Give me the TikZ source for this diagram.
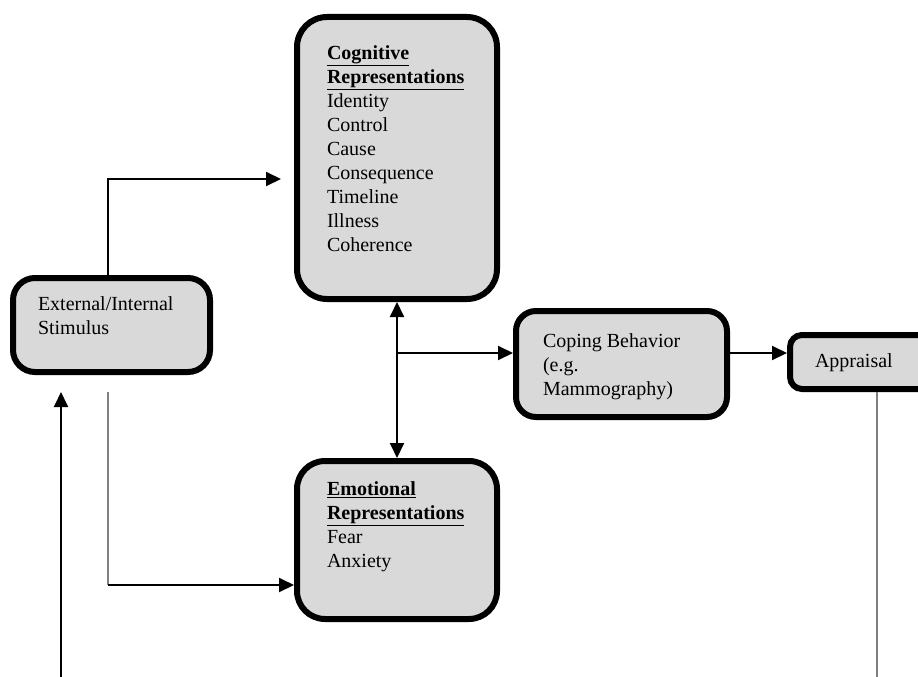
\documentclass[tikz,border=0pt]{standalone}
\usepackage{fontspec}
\setmainfont{Liberation Serif}
\usetikzlibrary{arrows.meta}
\definecolor{boxgray}{gray}{0.85}
\newcommand{\boxtext}[3]{\parbox[c][#1][t]{#2}{\raggedright #3}}

\begin{document}
\begin{tikzpicture}[x=1pt,y=-1pt,
    box/.style={draw,line width=6pt,fill=boxgray,
      font=\fontsize{20}{24}\selectfont},
    arr/.style={line width=2pt,-{Triangle[length=15pt,width=14pt]}},
    dbl/.style={line width=2pt,{Triangle[length=15pt,width=14pt]}-{Triangle[length=15pt,width=14pt]}},
    fio/.style={line width=1.6pt,gray}]
  \useasboundingbox (0,0) rectangle (918,677);

  \node[box,rounded corners=30pt,inner xsep=30pt,inner ysep=29pt] (cog) at (397,158)
    {\boxtext{224pt}{140pt}{\textbf{\underline{Cognitive}}\\
      \textbf{\underline{Representations}}\\Identity\\Control\\Cause\\
      Consequence\\Timeline\\Illness\\Coherence}};
  \node[box,rounded corners=28pt,inner xsep=30pt,inner ysep=21pt] (emo) at (397,540)
    {\boxtext{116pt}{140pt}{\textbf{\underline{Emotional}}\\
      \textbf{\underline{Representations}}\\Fear\\Anxiety}};
  \node[box,rounded corners=22pt,inner xsep=25pt,inner ysep=19pt] (stim) at (111.5,325)
    {\boxtext{56pt}{147pt}{External/Internal\\Stimulus}};
  \node[box,rounded corners=20pt,inner xsep=27pt,inner ysep=23pt] (cop) at (621.5,364)
    {\boxtext{60pt}{157pt}{Coping Behavior\\(e.g.\\Mammography)}};
  \node[box,rounded corners=12pt,inner xsep=25pt,inner ysep=19pt] (appr) at (877,362)
    {\boxtext{16pt}{124pt}{Appraisal}};

  \coordinate (cb) at ([yshift=11pt]cop.west);
  \coordinate (sb) at ([xshift=-3.5pt,yshift=-17pt]stim.south);
  \coordinate (ec) at ([yshift=-45pt]emo.west);
  \coordinate (fb) at (61,677);

  \draw[arr,shorten >=13pt] ([xshift=-3.5pt]stim.north) |- ([yshift=-21pt]cog.west);
  \draw[dbl] (cog.south) -- (emo.north);
  \draw[arr] (cog.south |- cb) -- (cb);
  \draw[arr] ([yshift=11pt]cop.east) -- (appr.west |- cb);
  \draw[fio] (sb) -- (sb |- ec);
  \draw[arr] (sb |- ec) -- (ec);
  \draw[arr] (fb) -- (fb |- sb);
  \draw[fio] (appr.south) -- (appr.south |- fb);
\end{tikzpicture}
\end{document}
